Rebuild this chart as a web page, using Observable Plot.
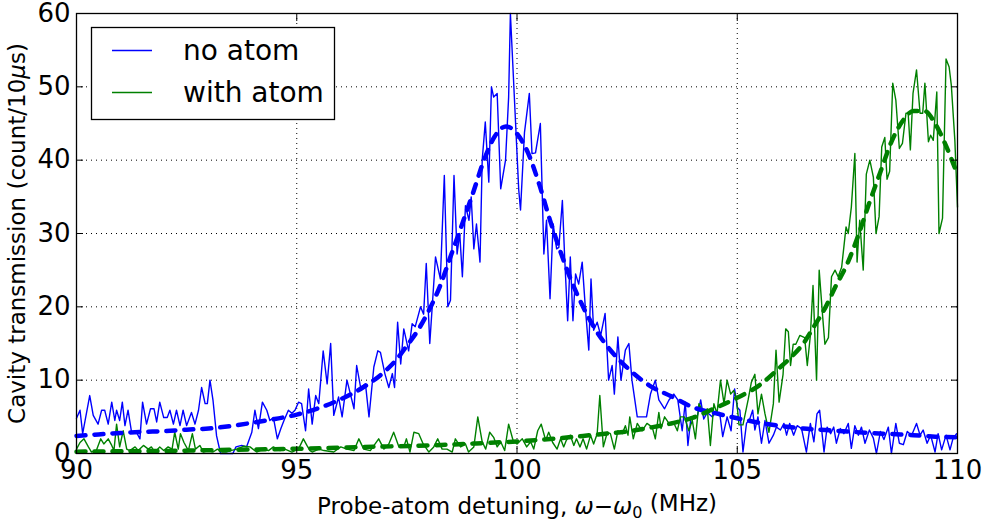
<!DOCTYPE html>
<html><head><meta charset="utf-8">
<script src="https://cdn.jsdelivr.net/npm/d3@7"></script>
<script src="https://cdn.jsdelivr.net/npm/@observablehq/plot@0.6"></script>
<style>body{margin:0;background:#fff}svg{display:block}</style>
</head><body><div id="chart"></div>
<script>
const seriesNames = ["no atom", "with atom"];
const seriesColors = ["#0000ff", "#008000"];
const xTicks = [90, 95, 100, 105, 110];
const yTicks = [0, 10, 20, 30, 40, 50, 60];

const xNoAtom = [90.0,90.08,90.14,90.3,90.38,90.49,90.57,90.64,90.72,90.8,90.87,90.91,90.98,91.04,91.1,91.17,91.25,91.36,91.44,91.5,91.59,91.68,91.76,91.82,91.89,91.98,92.06,92.12,92.2,92.27,92.35,92.42,92.5,92.61,92.69,92.77,92.84,92.92,92.97,93.03,93.1,93.18,93.27,93.33,93.55,93.62,93.75,93.86,93.98,94.05,94.13,94.22,94.32,94.39,94.47,94.56,94.64,94.71,94.81,94.89,94.96,95.04,95.11,
95.2,95.27,95.35,95.43,95.5,95.6,95.69,95.77,95.84,95.95,96.03,96.14,96.3,96.36,96.45,96.56,96.64,96.75,96.84,96.9,97.0,97.09,97.17,97.22,97.29,97.36,97.43,97.54,97.62,97.69,97.81,97.88,97.94,98.02,98.15,98.26,98.35,98.43,98.49,98.57,98.64,98.7,98.76,98.83,98.91,98.96,99.02,99.08,99.16,99.21,99.28,99.36,99.42,99.47,99.55,99.63,99.74,99.81,99.85,100.04,100.08,100.17,100.28,100.34,100.42,100.53,100.61,100.67,100.75,100.82,100.9,100.95,
101.03,101.08,101.15,101.21,101.27,101.33,101.4,101.48,101.55,101.63,101.68,101.74,101.82,101.9,102.0,102.08,102.16,102.21,102.29,102.36,102.46,102.54,102.61,102.73,102.84,102.94,103.03,103.14,103.22,103.35,103.45,103.56,103.65,103.75,103.82,103.88,103.95,104.09,104.17,104.24,104.32,104.43,104.52,104.6,104.67,104.77,104.86,104.94,105.0,
105.06,105.13,105.21,105.29,105.35,105.4,105.47,105.55,105.63,105.72,105.82,105.89,105.98,106.06,106.12,106.19,106.28,106.36,106.46,106.57,106.66,106.74,106.81,106.87,106.97,107.04,107.12,107.19,107.25,107.34,107.42,107.52,107.59,107.67,107.75,107.82,107.9,108.0,108.09,108.16,108.25,108.33,108.43,108.5,108.6,108.68,108.77,108.86,108.96,109.07,109.15,109.22,109.31,109.39,109.49,109.56,109.64,109.74,109.83,109.9,109.98];
const yNoAtom = [4.8,5.9,2.7,7.9,5.2,4.0,5.9,5.9,4.0,7.0,4.5,5.9,4.5,7.0,3.8,5.9,2.9,2.9,2.0,7.0,4.0,6.1,6.1,4.3,7.0,4.9,4.9,5.9,4.0,5.9,3.8,5.9,3.8,5.6,4.0,5.9,9.0,6.8,6.8,10.0,7.2,2.4,0,0,0,0.9,1.1,0.9,2.9,5.9,3.4,7.0,5.9,4.5,4.9,2.0,3.4,4.5,5.9,5.5,5.9,7.0,6.8,
3.1,8.8,4.0,7.9,6.8,14.0,9.5,15.0,5.2,7.7,5.0,10.0,6.1,12.0,9.0,9.5,5.0,11.8,14.0,13.8,10.9,9.0,10.9,9.0,17.9,12.2,17.0,14.0,17.7,17.3,20.0,19.0,25.9,15.0,26.8,23.8,37.9,20.0,20.9,37.9,27.2,30.0,24.1,33.8,31.8,35.0,27.9,31.3,26.1,40.0,45.2,37.0,50.0,48.6,49.1,36.1,40.0,48.6,60,35.9,33.2,43.8,49.1,40.9,41.0,45.0,27.2,31.8,21.1,31.3,27.9,28.1,
34.5,27.0,18.1,26.8,18.1,24.5,23.1,26.1,20.0,14.1,23.8,16.8,17.9,16.1,19.1,10.0,12.0,8.1,15.9,10.0,14.1,15.0,10.0,5.0,5.0,5.0,8.1,10.0,7.3,6.1,7.3,8.1,7.3,3.1,7.0,1.1,5.0,5.0,7.3,4.7,5.6,5.0,5.6,5.6,2.3,5.0,3.1,8.8,6.3,
5.9,0.2,4.1,4.8,5.9,3.2,5.0,1.4,4.5,1.4,2.5,3.6,3.2,4.1,2.5,4.1,2.5,3.8,3.4,0.2,4.1,1.6,5.4,5.9,0.2,3.6,2.7,3.6,1.4,3.4,2.7,4.1,0.7,3.8,2.5,3.6,1.4,3.2,2.1,0,3.0,1.9,3.6,0,4.1,1.4,1.2,3.0,2.5,4.1,2.5,3.2,1.4,2.5,0.2,2.7,0.5,2.5,0.5,2.1,2.7];

const xWithAtom = [90.0,90.08,90.17,90.27,90.34,90.45,90.55,90.62,90.72,90.8,90.85,90.91,90.98,91.06,91.14,91.21,91.33,91.4,91.52,91.63,91.7,91.78,91.89,91.98,92.08,92.17,92.23,92.31,92.36,92.44,92.54,92.63,92.7,92.8,92.88,92.99,93.1,93.2,93.3,93.4,93.5,93.64,93.8,93.94,94.09,94.24,94.36,94.47,94.62,94.73,94.89,95.04,95.15,95.23,95.3,
95.35,95.5,95.62,95.84,96.0,96.14,96.3,96.41,96.52,96.67,96.86,96.98,97.09,97.2,97.32,97.43,97.49,97.57,97.66,97.77,97.87,98.0,98.11,98.2,98.3,98.41,98.53,98.6,98.72,98.83,98.9,99.02,99.11,99.21,99.29,99.38,99.47,99.55,99.63,99.72,99.81,99.91,100.0,100.12,100.22,100.31,100.38,100.47,100.55,100.65,100.72,
100.81,100.91,100.99,101.06,101.12,101.21,101.29,101.35,101.43,101.5,101.58,101.67,101.74,101.82,101.88,101.96,102.05,102.12,102.21,102.29,102.39,102.46,102.52,102.56,102.64,102.73,102.84,102.95,103.07,103.14,103.22,103.27,103.35,103.45,103.55,103.64,103.71,103.8,103.9,103.98,104.05,104.13,104.24,104.32,104.39,104.47,104.54,104.62,104.7,104.77,104.85,104.92,104.98,
105.04,105.13,105.25,105.32,105.4,105.47,105.55,105.63,105.72,105.82,105.88,105.95,106.04,106.1,106.16,106.21,106.27,106.33,106.42,106.53,106.59,106.66,106.72,106.8,106.86,106.94,106.99,107.07,107.14,107.22,107.29,107.37,107.47,107.52,107.59,107.67,107.72,107.78,107.86,107.93,108.01,108.09,108.15,108.22,108.28,108.35,108.4,108.46,108.53,108.6,108.68,108.75,108.83,108.88,108.93,108.99,109.07,109.15,109.21,109.26,109.34,109.39,109.45,109.53,109.58,109.66,109.74,109.81,109.86,109.94,110.0];
const yWithAtom = [0.6,1.5,2.0,0.9,0.2,0.4,2.0,1.3,2.0,1.1,0.4,4.0,0.9,3.1,0.6,0.4,0.9,0.4,1.1,0.6,0.9,0.2,0.9,0.4,0.9,0.6,2.9,0.6,2.7,1.5,0.4,2.7,0.6,1.1,0.2,0.4,0.2,0.6,0.2,0.2,0.4,0.6,1.0,0.9,0.2,0.6,0.4,0.9,0.4,0.6,0.2,0.6,2.0,1.1,0.4,
0.2,0.6,0.4,0.2,0.9,0.6,0.4,2.0,0.6,0.4,2.0,0.6,1.3,2.9,0.9,0.9,2.0,0.2,2.9,2.7,1.3,0.2,0.9,2.0,0.6,0.6,0.2,2.0,0.9,1.3,0.2,0.9,5.0,1.6,0.6,2.9,2.2,0.9,1.6,0.4,4.0,1.8,1.3,2.0,0.9,1.6,0.6,3.1,4.0,1.8,2.9,
1.5,0.6,2.0,0.9,1.8,2.5,1.1,2.0,0.9,2.0,0.6,2.5,1.3,2.7,7.9,0.9,2.9,2.7,0.6,3.1,2.7,3.8,2.5,5.0,2.0,4.1,3.1,4.1,3.6,2.0,5.6,3.4,5.0,4.1,4.3,3.1,5.0,5.0,3.1,4.5,2.0,6.8,5.4,6.1,1.1,6.8,5.4,10.0,6.8,10.0,8.1,8.6,7.6,
3.9,3.9,7.4,9.7,10.8,5.4,8.1,5.4,2.9,6.8,14.1,7.0,10.8,17.0,16.6,12.0,14.9,14.9,16.1,15.8,12.0,16.1,22.9,10.0,25.0,18.6,14.9,15.8,24.1,25.0,24.1,25.4,30.9,30.0,33.6,40.9,26.1,31.8,25.0,38.1,40.0,37.7,30.0,32.3,41.8,43.1,37.4,38.5,50.5,48.2,41.6,42.3,46.4,46.4,41.4,49.1,52.3,46.4,46.4,50.5,42.5,43.4,42.7,49.3,30.0,32.1,53.8,52.7,50.2,42.7,33.6];

const xFitNoAtom = [90,90.5,91,91.5,92,92.5,93,93.5,94,94.5,95,95.5,96,96.5,97,97.25,97.5,97.75,98,98.25,98.5,98.75,99,99.25,99.5,99.75,100,100.25,100.5,100.75,101,101.25,101.5,101.75,102,102.25,102.5,103,103.5,104,104.5,105,105.5,106,106.5,107,107.5,108,108.5,109,109.5,110];
const yFitNoAtom = [2.4,2.6,2.8,2.95,3.05,3.25,3.4,3.75,4.2,4.7,5.3,6.2,7.4,9.0,11.2,12.7,14.7,16.8,19.5,22.8,27.0,31.2,35.5,40.0,43.3,44.6,43.6,41.0,36.8,31.8,27.3,23.3,20.0,17.2,15.0,13.2,11.7,9.3,7.8,6.3,5.5,4.8,4.2,3.75,3.4,3.2,3.0,2.8,2.65,2.5,2.3,2.2];
const xFitWithAtom = [90,91,92,93,94,95,96,97,98,99,100,100.5,101,101.5,102,102.5,103,103.5,104,104.5,105,105.5,106,106.25,106.5,106.75,107,107.25,107.5,107.75,108,108.25,108.5,108.75,109,109.25,109.5,109.75,110];
const yFitWithAtom = [0.25,0.3,0.35,0.45,0.55,0.65,0.8,0.95,1.1,1.35,1.65,1.85,2.1,2.4,2.7,3.0,3.5,4.1,4.9,6.2,7.6,9.3,11.9,13.3,15.0,17.4,19.9,23.0,25.9,29.8,34.2,38.4,42.5,45.3,46.7,46.7,44.9,41.8,38.0];

const toRows = (xs, ys) => xs.map((x, i) => ({x, y: ys[i]}));
const noAtom = toRows(xNoAtom, yNoAtom);
const withAtom = toRows(xWithAtom, yWithAtom);
const fitNoAtom = toRows(xFitNoAtom, yFitNoAtom);
const fitWithAtom = toRows(xFitWithAtom, yFitWithAtom);

const gridStyle = {stroke: "black", strokeOpacity: 1, strokeWidth: 1, strokeDasharray: "1,4"};
const tickFont = 26;

const chart = Plot.plot({
  width: 985, height: 522,
  marginLeft: 76, marginRight: 28, marginTop: 13, marginBottom: 69,
  style: {fontFamily: "DejaVu Sans", fontSize: tickFont + "px", background: "white", color: "black"},
  x: {domain: [90, 110]},
  y: {domain: [0, 60]},
  marks: [
    Plot.gridX(xTicks, gridStyle),
    Plot.gridY(yTicks, gridStyle),
    Plot.line(noAtom, {x: "x", y: "y", stroke: seriesColors[0], strokeWidth: 1.4}),
    Plot.line(withAtom, {x: "x", y: "y", stroke: seriesColors[1], strokeWidth: 1.4}),
    Plot.line(fitNoAtom, {x: "x", y: "y", stroke: seriesColors[0], strokeWidth: 4.5, strokeDasharray: "9,9", curve: "monotone-x"}),
    Plot.line(fitWithAtom, {x: "x", y: "y", stroke: seriesColors[1], strokeWidth: 4.5, strokeDasharray: "9,9", curve: "monotone-x"}),
    Plot.frame({stroke: "black", strokeWidth: 1.3}),
    Plot.axisX({anchor: "bottom", ticks: xTicks, tickSize: -7, tickPadding: 14, tickFormat: d => String(d),
      label: "Probe-atom detuning", labelAnchor: "center", labelOffset: 60, labelArrow: "none"}),
    Plot.axisX({anchor: "top", ticks: xTicks, tickSize: -7, tickFormat: () => "", label: null}),
    Plot.axisY({anchor: "left", ticks: yTicks, tickSize: -7, tickPadding: 13, tickFormat: d => String(d),
      label: "Cavity transmission", labelAnchor: "center", labelOffset: 68, labelArrow: "none"}),
    Plot.axisY({anchor: "right", ticks: yTicks, tickSize: -7, tickFormat: () => "", label: null})
  ]
});
document.getElementById("chart").appendChild(chart);

const svg = d3.select(chart);
// axis labels with math italics
svg.selectAll('g[aria-label="x-axis label"] text')
  .style("font-size", "23px")
  .html('Probe-atom detuning, <tspan font-style="italic">ω</tspan>−<tspan font-style="italic">ω</tspan><tspan dy="0.3em" font-size="16px">0</tspan><tspan dy="-0.3em"> (MHz)</tspan>');
svg.selectAll('g[aria-label="y-axis label"] text')
  .style("font-size", "23px")
  .html('Cavity transmission (count/10<tspan font-style="italic">μ</tspan>s)');

// legend
const lg = svg.append("g").attr("font-family", "DejaVu Sans").attr("font-size", "28px").attr("text-anchor", "start");
lg.append("rect").attr("x", 91.5).attr("y", 27.5).attr("width", 243).attr("height", 92)
  .attr("fill", "white").attr("stroke", "black").attr("stroke-width", 1.3);
seriesNames.forEach((name, i) => {
  const yy = 50.5 + i * 42;
  lg.append("line").attr("x1", 112).attr("x2", 152).attr("y1", yy).attr("y2", yy)
    .attr("stroke", seriesColors[i]).attr("stroke-width", 1.4);
  lg.append("text").attr("x", 183).attr("y", yy + 9.5).attr("fill", "black")
    .attr("text-anchor", "start").text(name);
});
</script>
</body></html>
